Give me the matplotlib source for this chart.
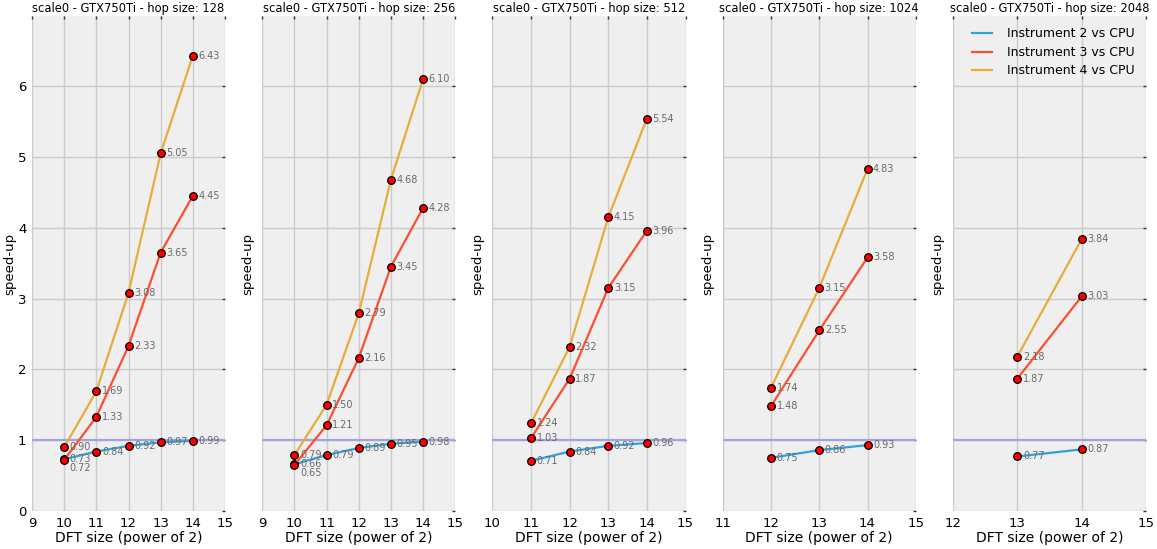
import matplotlib
matplotlib.use("Agg")
import matplotlib.pyplot as plt

# Speed-up of each instrument over the CPU, per hop size and DFT size (log2)
hop_sizes = [128, 256, 512, 1024, 2048]
dft_sizes = [
    [10, 11, 12, 13, 14],
    [10, 11, 12, 13, 14],
    [11, 12, 13, 14],
    [12, 13, 14],
    [13, 14],
]
instr2 = [
    [0.73, 0.84, 0.92, 0.97, 0.99],
    [0.66, 0.79, 0.89, 0.95, 0.98],
    [0.71, 0.84, 0.92, 0.96],
    [0.75, 0.86, 0.93],
    [0.77, 0.87],
]
instr3 = [
    [0.72, 1.33, 2.33, 3.65, 4.45],
    [0.65, 1.21, 2.16, 3.45, 4.28],
    [1.03, 1.87, 3.15, 3.96],
    [1.48, 2.55, 3.58],
    [1.87, 3.03],
]
instr4 = [
    [0.90, 1.69, 3.08, 5.05, 6.43],
    [0.79, 1.50, 2.79, 4.68, 6.10],
    [1.24, 2.32, 4.15, 5.54],
    [1.74, 3.15, 4.83],
    [2.18, 3.84],
]
series_names = ["Instrument 2 vs CPU", "Instrument 3 vs CPU", "Instrument 4 vs CPU"]
series_colors = ["#30a2da", "#fc4f30", "#e5ae38"]

fig, axes = plt.subplots(1, 5, figsize=(11.57, 5.49), dpi=100, sharey=True)
fig.subplots_adjust(left=32 / 1157, right=1146 / 1157, top=1 - 16 / 549,
                    bottom=1 - 511 / 549, wspace=0.193)

for i, ax in enumerate(axes):
    xs = dft_sizes[i]
    ax.set_facecolor("#efefef")
    for s in ax.spines.values():
        s.set_visible(False)
    ax.grid(True, color="#cbcbcb", linewidth=1)
    ax.set_axisbelow(True)
    ax.axhline(1.0, color="#a3a3e0", linewidth=1.6, zorder=1)

    used = []
    for name, color, vals in zip(series_names, series_colors,
                                 [instr2[i], instr3[i], instr4[i]]):
        ax.plot(xs, vals, color=color, linewidth=1.6, label=name, zorder=2,
                marker="o", markersize=5.5, markerfacecolor="#ff0000",
                markeredgecolor="black", markeredgewidth=0.9)
        for x, v in zip(xs, vals):
            dy = 0
            for (ux, uv) in used:
                if ux == x and abs(uv - v) < 0.05:
                    dy = -6
            used.append((x, v))
            ax.annotate(f"{v:.2f}", (x, v), xytext=(4, dy),
                        textcoords="offset points", ha="left", va="center",
                        fontsize=7, color="#6a6a6a", zorder=3)

    ax.set_xlim(xs[0] - 1, 15)
    ax.set_xticks(range(xs[0] - 1, 16))
    ax.set_ylim(0, 6.99)
    ax.set_yticks(range(0, 7))
    ax.tick_params(axis="both", which="major", labelsize=9.5, length=0,
                   pad=4, colors="black")
    ax.tick_params(axis="y", right=True, length=2.5, direction="in",
                   color="#333333", width=1)
    ax.tick_params(axis="x", top=True, length=2.5, direction="in",
                   color="#333333", width=1, bottom=False)
    ax.tick_params(axis="y", left=False)
    if i > 0:
        ax.tick_params(axis="y", labelleft=False)
    ax.set_title(f"scale0 - GTX750Ti - hop size: {hop_sizes[i]}",
                 fontsize=8.3, pad=3)
    ax.set_xlabel("DFT size (power of 2)", fontsize=10, labelpad=1)
    ax.set_ylabel("speed-up", fontsize=9.5, labelpad=1 if i == 0 else 6)

leg = axes[-1].legend(loc="upper right", frameon=False, fontsize=9,
                      handlelength=1.6, handletextpad=1.2, labelspacing=0.45,
                      borderaxespad=0.5)
for h in leg.get_lines():
    h.set_marker("")

fig.savefig("out.png", dpi=100, facecolor="white")
